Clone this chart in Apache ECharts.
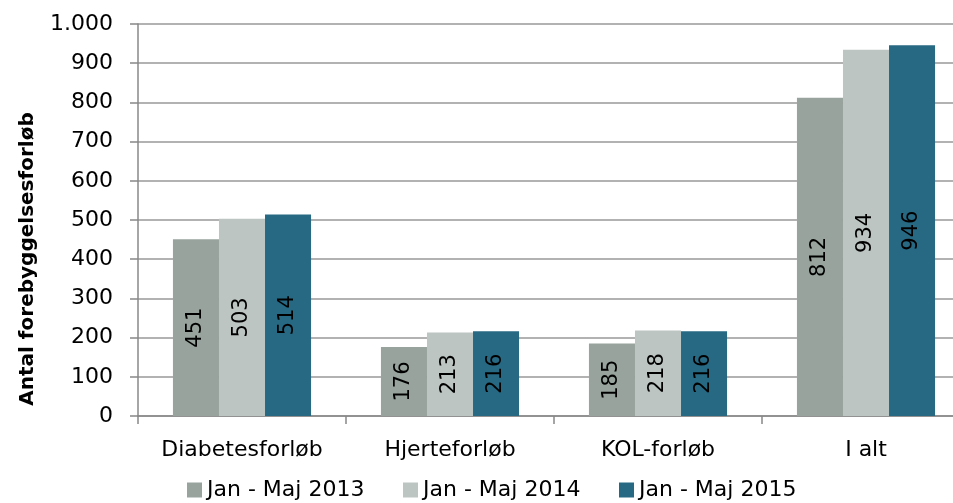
<!DOCTYPE html>
<html><head><meta charset="utf-8">
<script src="https://cdn.jsdelivr.net/npm/echarts@6/dist/echarts.min.js"></script>
<style>html,body{margin:0;padding:0;background:#fff}#c{width:953px;height:503px}</style>
</head><body><div id="c"></div>
<script>
const categories = ["Diabetesforløb", "Hjerteforløb", "KOL-forløb", "I alt"];
const seriesNames = ["Jan - Maj 2013", "Jan - Maj 2014", "Jan - Maj 2015"];
const values2013 = [451, 176, 185, 812];
const values2014 = [503, 213, 218, 934];
const values2015 = [514, 216, 216, 946];
const colors = ["#97A39C", "#BCC5C1", "#276882"];
const yAxisTitle = "Antal forebyggelsesforløb";
const FONT = "'DejaVu Sans', sans-serif";
const FS = 22;

const chart = echarts.init(document.getElementById('c'), null, {renderer: 'canvas'});
const mk = (name, data, color) => ({
  name, type: 'bar', data, barGap: '0%', barCategoryGap: '33.6%',
  itemStyle: {color},
  label: {show: true, position: 'inside', rotate: 90, color: '#000',
          fontFamily: FONT, fontSize: 21, formatter: p => String(p.value)}
});
const legendLefts = [187, 403, 619];
chart.setOption({
  animation: false,
  textStyle: {fontFamily: FONT},
  legend: seriesNames.map((n, i) => ({
    top: 479, left: legendLefts[i], itemWidth: 15, itemHeight: 15, itemGap: 0, padding: 0,
    icon: 'rect', textStyle: {fontSize: FS, color: '#000', fontFamily: FONT},
    data: [n]
  })),
  graphic: [{
    type: 'text', x: 28, y: 259, rotation: Math.PI / 2,
    style: {text: yAxisTitle, font: "bold 20px 'DejaVu Sans', sans-serif", fill: '#000',
            textAlign: 'center', textVerticalAlign: 'middle'}
  }],
  grid: {left: 138, top: 24, width: 832, height: 392, containLabel: false, outerBoundsMode: 'none'},
  xAxis: {
    type: 'category', data: categories,
    axisLine: {lineStyle: {color: '#888', width: 1.5}},
    axisTick: {show: true, interval: 0, length: 8, lineStyle: {color: '#888', width: 1.5}},
    axisLabel: {color: '#000', fontSize: FS, margin: 23, fontFamily: FONT, interval: 0, hideOverlap: false}
  },
  yAxis: {
    type: 'value', min: 0, max: 1000, interval: 100,
    axisLine: {show: true, lineStyle: {color: '#888', width: 1.5}},
    axisTick: {show: true, length: 8, lineStyle: {color: '#888', width: 1.5}},
    splitLine: {lineStyle: {color: '#999', width: 1.5}},
    axisLabel: {color: '#000', fontSize: FS, margin: 25, fontFamily: FONT,
      formatter: v => v >= 1000 ? (Math.floor(v/1000) + '.' + String(v%1000).padStart(3,'0')) : String(v)}
  },
  series: [
    mk(seriesNames[0], values2013, colors[0]),
    mk(seriesNames[1], values2014, colors[1]),
    mk(seriesNames[2], values2015, colors[2])
  ]
});
</script></body></html>
